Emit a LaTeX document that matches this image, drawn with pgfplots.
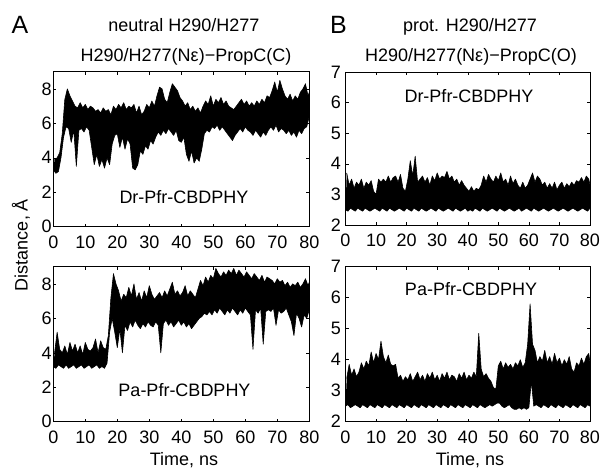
\documentclass[border=0pt]{standalone}
\usepackage{fontspec}
\setmainfont{Liberation Sans}
\usepackage{pgfplots}
\pgfplotsset{compat=1.18}
\newcommand{\fs}{\fontsize{18}{21}\selectfont}
\pgfplotsset{
  panel/.style={
    scale only axis, anchor=south west,
    xmin=0, xmax=80, xtick={0,10,...,80},
    axis line style={line width=0.6pt},
    every tick/.style={black, line width=0.5pt},
    major tick length=3pt,
    tick align=inside,
    /pgf/number format/assume math mode=true,
    ticklabel style={font=\fs},
    xticklabel style={inner sep=0pt, yshift=-9pt},
    clip=true,
  },
  band/.style={black, fill=black, line width=0.6pt, line join=round, mark=none},
}
\begin{document}
\begin{tikzpicture}[x=1pt,y=1pt]
\path[use as bounding box] (0,0) rectangle (602,470);
% ---------- top left: upper samples forward, lower samples backward ----------
\begin{axis}[panel, at={(53.3pt,243.3pt)}, width=256pt, height=155pt,
  ymin=0, ymax=9, ytick={0,2,4,6,8}, yticklabel style={inner sep=1.5pt}]
\addplot[band] coordinates {
(0.4,3.9)(1.2,4.0)(2,4.3)(2.8,5.4)(3.6,7.4)(4.4,8.0)(5.2,7.6)(6,7.3)(6.8,7.0)(7.6,6.9)
(8.4,7.2)(9.2,6.9)(10,7.1)(10.8,6.8)(11.6,7.0)(12.4,6.9)(13.2,6.7)(14,6.8)(14.8,6.6)(15.6,6.9)
(16.4,6.7)(17.2,6.8)(18,6.5)(18.8,7.0)(19.6,6.8)(20.4,7.1)(21.2,6.9)(22,7.2)(22.8,6.8)(23.6,7.0)
(24.4,6.9)(25.2,7.1)(26,6.6)(26.8,7.0)(27.6,6.5)(28.4,6.7)(29.2,7.1)(30,6.9)(30.8,7.3)(31.6,7.0)
(32.4,7.6)(33.2,8.1)(34,8.0)(34.8,7.4)(35.6,7.2)(36.4,7.8)(37.2,8.3)(38,8.1)(38.8,7.9)(39.6,7.5)
(40.4,7.3)(41.2,7.0)(42,7.2)(42.8,6.8)(43.6,7.0)(44.4,6.7)(45.2,6.9)(46,6.6)(46.8,7.0)(47.6,7.3)
(48.4,7.1)(49.2,7.6)(50,7.0)(50.8,7.4)(51.6,7.2)(52.4,7.5)(53.2,7.1)(54,7.3)(54.8,7.0)(55.6,6.9)
(56.4,6.8)(57.2,7.0)(58,7.2)(58.8,7.4)(59.6,7.1)(60.4,7.3)(61.2,7.0)(62,7.2)(62.8,7.0)(63.6,7.3)
(64.4,7.1)(65.2,7.4)(66,7.2)(66.8,7.6)(67.6,7.5)(68.4,7.9)(69.2,8.4)(70,7.8)(70.8,8.5)(71.6,8.0)
(72.4,7.6)(73.2,7.4)(74,7.7)(74.8,7.3)(75.6,7.6)(76.4,7.4)(77.2,7.8)(78,8.0)(78.8,8.3)(79.6,7.6)(80,7.8)
(80,6.4)(79.2,5.8)(78.4,5.7)(77.6,5.4)(76.8,5.6)(76,5.2)(75.2,5.5)(74.4,5.3)(73.6,5.6)(72.8,5.4)(72,5.6)
(71.2,5.7)(70.4,5.5)(69.6,5.9)(68.8,5.6)(68,5.8)(67.2,5.6)(66.4,5.3)(65.6,5.5)(64.8,5.2)(64,5.4)
(63.2,5.6)(62.4,5.3)(61.6,5.5)(60.8,5.6)(60,5.8)(59.2,5.5)(58.4,5.7)(57.6,5.5)(56.8,5.3)(56,5.0)
(55.2,5.2)(54.4,5.4)(53.6,5.6)(52.8,5.8)(52,5.6)(51.2,5.9)(50.4,5.7)(49.6,5.8)(48.8,5.5)(48,5.6)
(47.2,5.4)(46.4,4.5)(45.6,3.8)(44.8,4.0)(44,3.7)(43.2,4.4)(42.4,3.8)(41.6,4.2)(40.8,5.2)(40,4.9)
(39.2,5.0)(38.4,5.6)(37.6,5.3)(36.8,5.5)(36,5.7)(35.2,5.4)(34.4,5.6)(33.6,5.3)(32.8,5.5)(32,5.2)
(31.2,4.8)(30.4,5.0)(29.6,4.5)(28.8,4.7)(28,4.2)(27.2,4.4)(26.4,3.6)(25.6,3.3)(24.8,3.4)(24,4.8)
(23.2,5.1)(22.4,4.5)(21.6,5.2)(20.8,4.6)(20,5.4)(19.2,5.3)(18.4,4.8)(17.6,3.6)(16.8,4.0)(16,3.4)
(15.2,3.9)(14.4,3.5)(13.6,4.2)(12.8,3.6)(12,4.6)(11.2,5.6)(10.4,5.8)(9.6,5.5)(8.8,5.7)(8,5.6)
(7.2,3.5)(6.4,5.6)(5.6,4.9)(4.8,5.7)(4,5.8)(3.2,5.2)(2.4,4.0)(1.6,3.2)(0.8,3.1)(0,3.3)
};
\end{axis}
% ---------- bottom left ----------
\begin{axis}[panel, at={(53.3pt,48.3pt)}, width=256pt, height=155pt,
  ymin=0, ymax=9, ytick={0,2,4,6,8}, yticklabel style={inner sep=1.5pt}]
\addplot[band] coordinates {
(0.4,4.0)(1.2,5.2)(2,4.2)(2.8,4.0)(3.6,4.4)(4.4,3.9)(5.2,4.6)(6,4.1)(6.8,4.5)(7.6,4.0)
(8.4,4.4)(9.2,3.9)(10,4.6)(10.8,4.2)(11.6,4.1)(12.4,4.3)(13.2,4.8)(14,4.0)(14.8,4.7)(15.6,4.3)
(16.4,4.2)(17.2,5.0)(18,7.2)(18.8,8.6)(19.6,8.0)(20.4,7.6)(21.2,7.0)(22,7.4)(22.8,7.2)(23.6,7.8)
(24.4,7.3)(25.2,8.0)(26,7.1)(26.8,7.5)(27.6,7.0)(28.4,7.6)(29.2,7.2)(30,7.9)(30.8,7.4)(31.6,7.1)
(32.4,7.3)(33.2,7.5)(34,7.2)(34.8,7.6)(35.6,7.3)(36.4,7.7)(37.2,8.1)(38,7.4)(38.8,7.6)(39.6,7.3)
(40.4,7.5)(41.2,7.9)(42,7.3)(42.8,7.6)(43.6,7.4)(44.4,7.2)(45.2,7.7)(46,8.2)(46.8,7.9)(47.6,8.4)
(48.4,8.1)(49.2,8.5)(50,8.3)(50.8,8.9)(51.6,8.6)(52.4,8.4)(53.2,8.7)(54,8.5)(54.8,8.8)(55.6,8.6)
(56.4,8.9)(57.2,8.5)(58,8.8)(58.8,8.6)(59.6,8.4)(60.4,8.7)(61.2,8.5)(62,8.3)(62.8,8.6)(63.6,8.4)
(64.4,8.2)(65.2,8.5)(66,8.1)(66.8,8.4)(67.6,8.3)(68.4,8.2)(69.2,8.0)(70,8.3)(70.8,8.1)(71.6,8.2)
(72.4,7.9)(73.2,8.1)(74,7.8)(74.8,8.0)(75.6,7.9)(76.4,8.1)(77.2,7.8)(78,8.0)(78.8,8.3)(79.6,7.9)(80,8.1)
(80,6.5)(79.2,6.0)(78.4,6.2)(77.6,5.5)(76.8,6.0)(76,6.3)(75.2,5.0)(74.4,5.8)(73.6,6.2)(72.8,6.6)(72,6.4)
(71.2,6.3)(70.4,6.5)(69.6,5.6)(68.8,6.6)(68,6.4)(67.2,6.5)(66.4,6.4)(65.6,4.5)(64.8,6.6)(64,6.3)
(63.2,6.5)(62.4,4.2)(61.6,6.2)(60.8,6.4)(60,6.6)(59.2,6.3)(58.4,6.5)(57.6,6.2)(56.8,6.4)(56,6.6)
(55.2,6.3)(54.4,6.5)(53.6,6.2)(52.8,6.4)(52,6.6)(51.2,6.3)(50.4,6.5)(49.6,6.2)(48.8,6.4)(48,6.2)
(47.2,6.3)(46.4,6.1)(45.6,6.0)(44.8,5.8)(44,5.6)(43.2,5.4)(42.4,5.7)(41.6,5.5)(40.8,5.8)(40,5.6)
(39.2,5.9)(38.4,5.7)(37.6,5.5)(36.8,5.8)(36,5.6)(35.2,5.9)(34.4,5.7)(33.6,4.0)(32.8,5.6)(32,5.8)
(31.2,5.5)(30.4,5.6)(29.6,5.8)(28.8,5.5)(28,5.7)(27.2,5.4)(26.4,5.6)(25.6,5.9)(24.8,5.5)(24,5.8)
(23.2,5.3)(22.4,5.6)(21.6,4.0)(20.8,5.4)(20,4.3)(19.2,5.2)(18.4,6.0)(17.6,5.2)(16.8,3.4)(16,3.1)
(15.2,3.2)(14.4,3.1)(13.6,3.3)(12.8,3.2)(12,3.1)(11.2,3.3)(10.4,3.2)(9.6,3.1)(8.8,3.3)(8,3.2)
(7.2,3.1)(6.4,3.3)(5.6,3.2)(4.8,3.1)(4,3.3)(3.2,3.1)(2.4,3.2)(1.6,3.3)(0.8,3.1)(0,3.2)
};
\end{axis}
% ---------- top right ----------
\begin{axis}[panel, at={(345.5pt,245pt)}, width=244.5pt, height=153pt,
  ymin=2, ymax=7, ytick={2,3,4,5,6,7}, yticklabel style={inner sep=4.5pt}]
\addplot[band] coordinates {
(0.4,3.7)(1.2,3.3)(2,3.5)(2.8,3.2)(3.6,3.4)(4.4,3.3)(5.2,3.5)(6,3.2)(6.8,3.4)(7.6,3.3)
(8.4,3.45)(9.2,3.1)(10,3.0)(10.8,3.5)(11.6,3.4)(12.4,3.5)(13.2,3.4)(14,3.6)(14.8,3.4)(15.6,3.55)
(16.4,3.6)(17.2,3.4)(18,3.65)(18.8,3.2)(19.6,3.1)(20.4,3.5)(21.2,4.1)(22,3.6)(22.8,4.25)(23.6,3.4)
(24.4,3.5)(25.2,3.6)(26,3.4)(26.8,3.55)(27.6,3.3)(28.4,3.6)(29.2,3.45)(30,3.7)(30.8,3.5)(31.6,3.6)
(32.4,3.55)(33.2,3.75)(34,3.5)(34.8,3.6)(35.6,3.4)(36.4,3.5)(37.2,3.3)(38,3.45)(38.8,3.3)(39.6,3.2)
(40.4,3.1)(41.2,3.25)(42,3.1)(42.8,3.2)(43.6,3.15)(44.4,3.3)(45.2,3.6)(46,3.4)(46.8,3.65)(47.6,3.5)
(48.4,3.4)(49.2,3.6)(50,3.45)(50.8,3.7)(51.6,3.4)(52.4,3.5)(53.2,3.3)(54,3.6)(54.8,3.35)(55.6,3.5)
(56.4,3.3)(57.2,3.2)(58,3.4)(58.8,3.2)(59.6,3.3)(60.4,3.5)(61.2,3.7)(62,3.4)(62.8,3.6)(63.6,3.5)
(64.4,3.3)(65.2,3.4)(66,3.2)(66.8,3.35)(67.6,3.2)(68.4,3.4)(69.2,3.15)(70,3.3)(70.8,3.4)(71.6,3.2)
(72.4,3.35)(73.2,3.25)(74,3.4)(74.8,3.3)(75.6,3.45)(76.4,3.4)(77.2,3.55)(78,3.4)(78.8,3.6)(79.6,3.5)(80,3.3)
(80,2.55)(79.2,2.45)(78.4,2.5)(77.6,2.55)(76.8,2.5)(76,2.45)(75.2,2.5)(74.4,2.55)(73.6,2.5)(72.8,2.45)(72,2.5)
(71.2,2.55)(70.4,2.5)(69.6,2.45)(68.8,2.5)(68,2.55)(67.2,2.5)(66.4,2.45)(65.6,2.5)(64.8,2.55)(64,2.5)
(63.2,2.45)(62.4,2.5)(61.6,2.55)(60.8,2.45)(60,2.5)(59.2,2.55)(58.4,2.5)(57.6,2.45)(56.8,2.55)(56,2.5)
(55.2,2.45)(54.4,2.5)(53.6,2.55)(52.8,2.5)(52,2.45)(51.2,2.5)(50.4,2.55)(49.6,2.45)(48.8,2.5)(48,2.55)
(47.2,2.5)(46.4,2.45)(45.6,2.5)(44.8,2.55)(44,2.45)(43.2,2.5)(42.4,2.55)(41.6,2.45)(40.8,2.5)(40,2.45)
(39.2,2.55)(38.4,2.5)(37.6,2.45)(36.8,2.5)(36,2.55)(35.2,2.45)(34.4,2.5)(33.6,2.55)(32.8,2.5)(32,2.45)
(31.2,2.5)(30.4,2.55)(29.6,2.45)(28.8,2.5)(28,2.55)(27.2,2.5)(26.4,2.45)(25.6,2.5)(24.8,2.55)(24,2.45)
(23.2,2.5)(22.4,2.55)(21.6,2.45)(20.8,2.5)(20,2.55)(19.2,2.45)(18.4,2.5)(17.6,2.55)(16.8,2.5)(16,2.45)
(15.2,2.5)(14.4,2.55)(13.6,2.45)(12.8,2.5)(12,2.55)(11.2,2.45)(10.4,2.5)(9.6,2.55)(8.8,2.5)(8,2.45)
(7.2,2.5)(6.4,2.55)(5.6,2.45)(4.8,2.5)(4,2.55)(3.2,2.45)(2.4,2.5)(1.6,2.55)(0.8,2.45)(0,2.5)
};
\end{axis}
% ---------- bottom right ----------
\begin{axis}[panel, at={(345.5pt,48.3pt)}, width=244.5pt, height=155pt,
  ymin=2, ymax=7, ytick={2,3,4,5,6,7}, yticklabel style={inner sep=4.5pt}]
\addplot[band] coordinates {
(0.4,3.4)(1.2,3.85)(2,3.5)(2.8,3.7)(3.6,3.45)(4.4,3.6)(5.2,3.9)(6,3.7)(6.8,3.95)(7.6,3.8)
(8.4,4.25)(9.2,3.9)(10,4.2)(10.8,4.0)(11.6,4.6)(12.4,4.1)(13.2,3.9)(14,4.15)(14.8,3.85)(15.6,3.8)
(16.4,3.85)(17.2,3.4)(18,3.5)(18.8,3.3)(19.6,3.45)(20.4,3.35)(21.2,3.55)(22,3.3)(22.8,3.45)(23.6,3.6)
(24.4,3.35)(25.2,3.5)(26,3.3)(26.8,3.55)(27.6,3.4)(28.4,3.6)(29.2,3.35)(30,3.5)(30.8,3.3)(31.6,3.55)
(32.4,3.4)(33.2,3.6)(34,3.35)(34.8,3.5)(35.6,3.45)(36.4,3.3)(37.2,3.55)(38,3.4)(38.8,3.6)(39.6,3.35)
(40.4,3.5)(41.2,3.4)(42,3.6)(42.8,3.45)(43.6,4.85)(44.4,3.7)(45.2,3.45)(46,3.55)(46.8,3.4)(47.6,3.3)
(48.4,3.1)(49.2,3.05)(50,3.8)(50.8,3.95)(51.6,3.7)(52.4,3.9)(53.2,3.75)(54,3.85)(54.8,3.7)(55.6,3.9)
(56.4,3.8)(57.2,4.0)(58,3.75)(58.8,3.9)(59.6,4.5)(60.4,5.8)(61.2,4.5)(62,4.3)(62.8,3.9)(63.6,4.1)
(64.4,3.95)(65.2,4.3)(66,3.9)(66.8,4.1)(67.6,3.85)(68.4,4.2)(69.2,3.9)(70,4.05)(70.8,3.8)(71.6,4.0)
(72.4,3.85)(73.2,4.1)(74,3.7)(74.8,3.6)(75.6,3.9)(76.4,3.8)(77.2,4.05)(78,3.85)(78.8,4.1)(79.6,4.2)(80,3.9)
(80,2.5)(79.2,2.55)(78.4,2.45)(77.6,2.5)(76.8,2.55)(76,2.45)(75.2,2.5)(74.4,2.55)(73.6,2.45)(72.8,2.5)(72,2.55)
(71.2,2.45)(70.4,2.5)(69.6,2.55)(68.8,2.45)(68,2.5)(67.2,2.55)(66.4,2.45)(65.6,2.5)(64.8,2.55)(64,2.45)
(63.2,2.5)(62.4,2.55)(61.6,2.5)(60.8,3.3)(60,2.45)(59.2,2.4)(58.4,2.45)(57.6,2.4)(56.8,2.45)(56,2.4)
(55.2,2.4)(54.4,2.45)(53.6,2.55)(52.8,2.5)(52,2.45)(51.2,2.5)(50.4,2.6)(49.6,2.6)(48.8,2.55)(48,2.5)
(47.2,2.55)(46.4,2.5)(45.6,2.45)(44.8,2.5)(44,2.55)(43.2,2.45)(42.4,2.5)(41.6,2.55)(40.8,2.45)(40,2.5)
(39.2,2.55)(38.4,2.45)(37.6,2.5)(36.8,2.55)(36,2.45)(35.2,2.5)(34.4,2.55)(33.6,2.45)(32.8,2.5)(32,2.55)
(31.2,2.45)(30.4,2.5)(29.6,2.55)(28.8,2.45)(28,2.5)(27.2,2.55)(26.4,2.45)(25.6,2.5)(24.8,2.55)(24,2.45)
(23.2,2.5)(22.4,2.55)(21.6,2.45)(20.8,2.5)(20,2.55)(19.2,2.45)(18.4,2.5)(17.6,2.55)(16.8,2.45)(16,2.5)
(15.2,2.55)(14.4,2.45)(13.6,2.5)(12.8,2.55)(12,2.45)(11.2,2.5)(10.4,2.55)(9.6,2.45)(8.8,2.5)(8,2.55)
(7.2,2.45)(6.4,2.5)(5.6,2.55)(4.8,2.45)(4,2.5)(3.2,2.55)(2.4,2.5)(1.6,2.45)(0.8,2.55)(0,2.5)
};
\end{axis}
% ---------- texts ----------
\node[anchor=base west, inner sep=0pt, font=\fontsize{25}{25}\selectfont] at (11.5,436.7) {A};
\node[anchor=base west, inner sep=0pt, font=\fontsize{25}{25}\selectfont] at (330,436.7) {B};
\node[anchor=base, inner sep=0pt, font=\fs] at (184,438.3) {neutral H290/H277};
\node[anchor=base, inner sep=0pt, font=\fs] at (186,408.3) {H290/H277(Nε)−PropC(C)};
\node[anchor=base, inner sep=0pt, font=\fs] at (470,438.3) {prot. H290/H277};
\node[anchor=base, inner sep=0pt, font=\fs] at (471,408.3) {H290/H277(Nε)−PropC(O)};
\node[anchor=base, inner sep=0pt, font=\fs] at (184,266) {Dr-Pfr-CBDPHY};
\node[anchor=base, inner sep=0pt, font=\fs] at (469,367.3) {Dr-Pfr-CBDPHY};
\node[anchor=base, inner sep=0pt, font=\fs] at (184.5,73.3) {Pa-Pfr-CBDPHY};
\node[anchor=base, inner sep=0pt, font=\fs] at (471,174.3) {Pa-Pfr-CBDPHY};
\node[anchor=base, inner sep=0pt, font=\fs] at (184,4) {Time, ns};
\node[anchor=base, inner sep=0pt, font=\fs] at (470,4) {Time, ns};
\node[anchor=base, inner sep=0pt, font=\fs, rotate=90] at (27.5,225) {Distance, Å};
\end{tikzpicture}
\end{document}
